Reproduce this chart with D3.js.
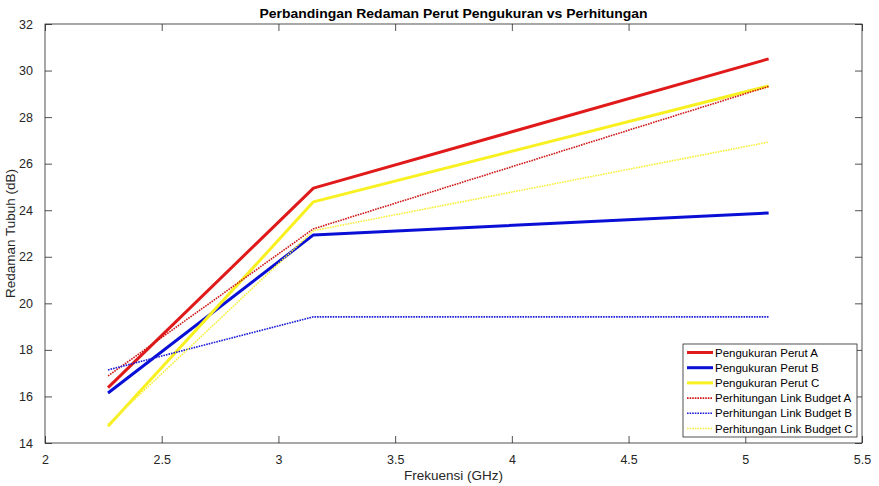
<!DOCTYPE html>
<html>
<head>
<meta charset="utf-8">
<script src="https://cdn.jsdelivr.net/npm/d3@7"></script>
<style>
  html, body { margin: 0; padding: 0; background: #fff; }
  svg { display: block; font-family: "Liberation Sans", Arial, sans-serif; }
</style>
</head>
<body>
<svg id="chart" width="879" height="486"></svg>
<script>
// Frequencies (GHz) at which attenuation was measured / computed
const frequencies = [2.27, 3.15, 5.1];

// Measured abdominal attenuation (dB)
const pengukuranA = [16.38, 24.95, 30.5];
const pengukuranB = [16.15, 22.94, 23.88];
const pengukuranC = [14.72, 24.36, 29.34];

// Link budget calculation (dB)
const perhitunganA = [16.88, 23.2, 29.32];
const perhitunganB = [17.14, 19.42, 19.42];
const perhitunganC = [14.8, 23.12, 26.93];

const xTicks = [2, 2.5, 3, 3.5, 4, 4.5, 5, 5.5];
const yTicks = [14, 16, 18, 20, 22, 24, 26, 28, 30, 32];

const seriesNames = [
  "Pengukuran Perut A", "Pengukuran Perut B", "Pengukuran Perut C",
  "Perhitungan Link Budget A", "Perhitungan Link Budget B", "Perhitungan Link Budget C"
];
const seriesValues = [pengukuranA, pengukuranB, pengukuranC, perhitunganA, perhitunganB, perhitunganC];
const seriesColors = ["#e01a1a", "#0a0fd6", "#f8f020", "#d01818", "#1a1ad8", "#f5ef3c"];
const seriesDashed = [false, false, false, true, true, true];

const svg = d3.select("#chart");
const plotLeft = 45, plotRight = 862, plotTop = 24, plotBottom = 443;

const x = d3.scaleLinear().domain([2, 5.5]).range([plotLeft, plotRight]);
const y = d3.scaleLinear().domain([14, 32]).range([plotBottom, plotTop]);

// Plot box
svg.append("rect")
  .attr("x", plotLeft).attr("y", plotTop)
  .attr("width", plotRight - plotLeft).attr("height", plotBottom - plotTop)
  .attr("fill", "#fff").attr("stroke", "#262626").attr("stroke-width", 0.8);

const tickFont = "12.5px";
const tickLen = 7;

// Bottom axis with inward ticks
const xAxis = svg.append("g").attr("transform", `translate(0,${plotBottom})`)
  .call(d3.axisBottom(x).tickValues(xTicks).tickFormat(d3.format("")).tickSizeInner(-tickLen).tickSizeOuter(0).tickPadding(12));
// Top axis ticks
const xAxisTop = svg.append("g").attr("transform", `translate(0,${plotTop})`)
  .call(d3.axisTop(x).tickValues(xTicks).tickFormat("").tickSizeInner(-tickLen).tickSizeOuter(0));
// Left axis
const yAxis = svg.append("g").attr("transform", `translate(${plotLeft},0)`)
  .call(d3.axisLeft(y).tickValues(yTicks).tickFormat(d3.format("")).tickSizeInner(-tickLen).tickSizeOuter(0).tickPadding(12));
// Right axis ticks
const yAxisRight = svg.append("g").attr("transform", `translate(${plotRight},0)`)
  .call(d3.axisRight(y).tickValues(yTicks).tickFormat("").tickSizeInner(-tickLen).tickSizeOuter(0));

[xAxis, xAxisTop, yAxis, yAxisRight].forEach(g => {
  g.select(".domain").remove();
  g.selectAll(".tick line").attr("stroke", "#262626").attr("stroke-width", 0.8);
  g.selectAll(".tick text").attr("fill", "#262626").style("font-size", tickFont)
    .style("font-family", "'Liberation Sans', Arial, sans-serif");
});
xAxis.selectAll(".tick text").attr("dy", "0.71em");

// Series lines
const line = d3.line().x((d, i) => x(frequencies[i])).y(d => y(d));
seriesValues.forEach((vals, k) => {
  svg.append("path")
    .datum(vals)
    .attr("d", line)
    .attr("fill", "none")
    .attr("stroke", seriesColors[k])
    .attr("stroke-width", seriesDashed[k] ? 1.6 : 3)
    .attr("stroke-dasharray", seriesDashed[k] ? "1.6,1" : null)
    .attr("stroke-linejoin", "round");
});

// Title
svg.append("text")
  .attr("x", (plotLeft + plotRight) / 2).attr("y", 18)
  .attr("text-anchor", "middle")
  .style("font-size", "13px").style("font-weight", "bold").attr("fill", "#000")
  .attr("textLength", 388).attr("lengthAdjust", "spacingAndGlyphs")
  .text("Perbandingan Redaman Perut Pengukuran vs Perhitungan");

// Axis labels
svg.append("text")
  .attr("x", (plotLeft + plotRight) / 2).attr("y", 480)
  .attr("text-anchor", "middle")
  .style("font-size", "13.5px").attr("fill", "#262626")
  .text("Frekuensi (GHz)");

svg.append("text")
  .attr("transform", `translate(15,${(plotTop + plotBottom) / 2}) rotate(-90)`)
  .attr("text-anchor", "middle")
  .style("font-size", "13.5px").attr("fill", "#262626")
  .text("Redaman Tubuh (dB)");

// Legend
const lg = svg.append("g").attr("transform", "translate(683,344)");
lg.append("rect")
  .attr("width", 174).attr("height", 93)
  .attr("fill", "#fff").attr("stroke", "#262626").attr("stroke-width", 0.8);
seriesNames.forEach((name, k) => {
  const yy = 8.5 + k * 15.2;
  lg.append("line")
    .attr("x1", 4).attr("x2", 30).attr("y1", yy).attr("y2", yy)
    .attr("stroke", seriesColors[k])
    .attr("stroke-width", seriesDashed[k] ? 1.6 : 3)
    .attr("stroke-dasharray", seriesDashed[k] ? "1.6,1" : null);
  lg.append("text")
    .attr("x", 32).attr("y", yy + 4)
    .style("font-size", "11.5px").attr("fill", "#000")
    .text(name);
});
</script>
</body>
</html>
